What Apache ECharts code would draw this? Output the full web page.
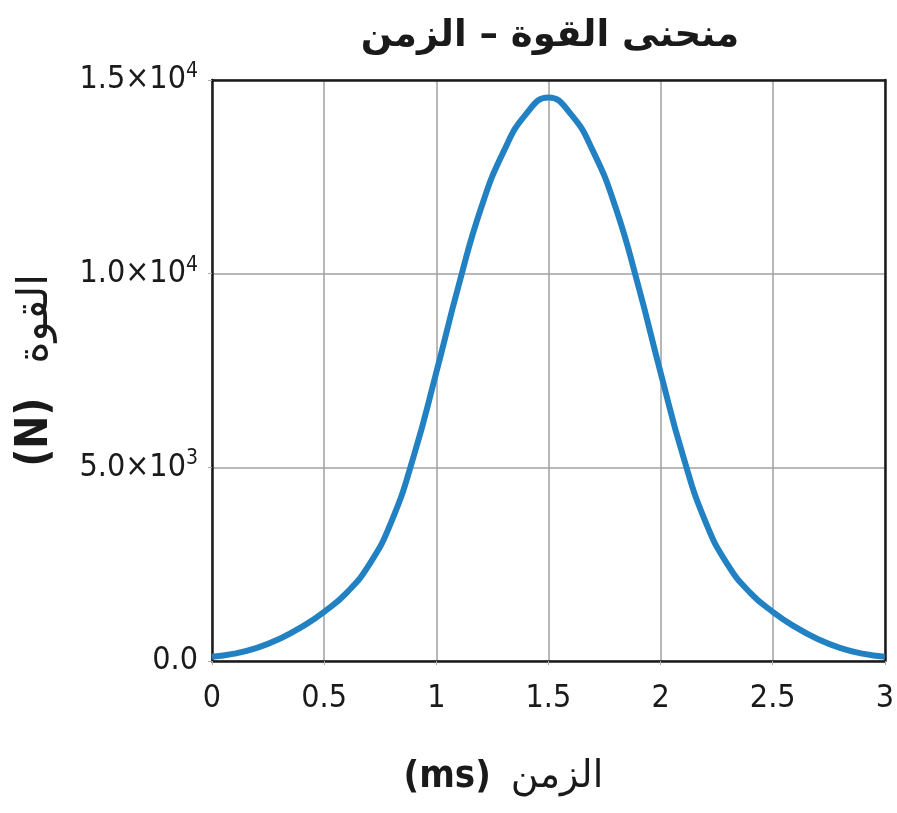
<!DOCTYPE html>
<html>
<head>
<meta charset="utf-8">
<script src="https://cdn.jsdelivr.net/npm/echarts@6/dist/echarts.min.js"></script>
<style>
  html, body { margin: 0; padding: 0; background: #ffffff; }
  #chart { width: 897px; height: 813px; }
</style>
</head>
<body>
<div id="chart"></div>
<script>
// Time samples (ms) and the measured force (N)
const timeMs = [0, 0.1, 0.2, 0.3, 0.4, 0.5, 0.6, 0.7, 0.8, 0.9, 1.0,
                1.1, 1.2, 1.3, 1.4, 1.5, 1.6, 1.7, 1.8, 1.9, 2.0,
                2.1, 2.2, 2.3, 2.4, 2.5, 2.6, 2.7, 2.8, 2.9, 3.0];
const forceN = [110, 190, 340, 570, 880, 1270, 1760, 2480, 3600, 5300, 7450,
                9700, 11700, 13150, 14120, 14550, 14120, 13150, 11700, 9700, 7450,
                5300, 3600, 2480, 1760, 1270, 880, 570, 340, 190, 110];

// Tick labels for the force axis, written as mantissa × 10^exponent
const forceTicks = {
  0: { m: '0.0', e: '' },
  5000: { m: '5.0×10', e: '3' },
  10000: { m: '1.0×10', e: '4' },
  15000: { m: '1.5×10', e: '4' }
};

const titleText = 'منحنى القوة – الزمن';
const xName = '{b|(ms)}{a|الزمن}';
const yName = '{b|(N)}{a|القوة}';

const numFont = "'Liberation Sans Narrow', 'DejaVu Sans Condensed', 'Liberation Sans', sans-serif";
const arFont = "'DejaVu Sans', 'Noto Sans', sans-serif";
const ink = '#1a1a1a';

const chart = echarts.init(document.getElementById('chart'));
chart.setOption({
  animation: false,
  backgroundColor: '#ffffff',
  title: {
    text: titleText,
    left: 545,
    textAlign: 'center',
    top: 13,
    textStyle: { fontFamily: arFont, fontWeight: 'bold', fontSize: 37, color: ink }
  },
  grid: { left: 212, right: 12, top: 80, bottom: 152 },
  xAxis: [{
    type: 'value',
    min: 0, max: 3, interval: 0.5,
    name: xName,
    nameLocation: 'middle',
    nameGap: 97,
    nameTextStyle: {
      padding: [0, 90, 0, 0],
      rich: {
        b: { fontFamily: numFont, fontSize: 38, fontWeight: 'bold', color: ink },
        a: { fontFamily: arFont, fontSize: 38, color: ink, padding: [0, 0, 0, 20] }
      }
    },
    axisLine: { show: true, lineStyle: { color: ink, width: 2.5 } },
    axisTick: { show: true, length: 4, lineStyle: { color: '#aaaaaa' } },
    axisLabel: {
      margin: 22,
      fontFamily: numFont, fontSize: 32, color: ink,
      showMinLabel: true, showMaxLabel: true
    },
    splitLine: { show: true, lineStyle: { color: '#a0a0a0', width: 1.5 } }
  }, {
    // top edge of the frame
    type: 'value', position: 'top', min: 0, max: 3, interval: 0.5,
    axisLine: { show: true, onZero: false, lineStyle: { color: ink, width: 2.5 } },
    axisTick: { show: false }, axisLabel: { show: false }, splitLine: { show: false }
  }],
  yAxis: [{
    type: 'value',
    min: 0, max: 15000, interval: 5000,
    name: yName,
    nameLocation: 'middle',
    nameGap: 154,
    nameTextStyle: {
      rich: {
        b: { fontFamily: numFont, fontSize: 44, fontWeight: 'bold', color: ink },
        a: { fontFamily: arFont, fontSize: 42, color: ink, padding: [0, 0, 0, 34] }
      }
    },
    axisLine: { show: true, lineStyle: { color: ink, width: 2.5 } },
    axisTick: { show: true, length: 4, lineStyle: { color: '#aaaaaa' } },
    axisLabel: {
      margin: 14,
      formatter: function (v) {
        const t = forceTicks[v];
        if (!t) return '';
        return t.e ? '{m|' + t.m + '}{e|' + t.e + '}' : '{m|' + t.m + '}';
      },
      rich: {
        m: { fontFamily: numFont, fontSize: 32, color: ink },
        e: { fontFamily: numFont, fontSize: 21, color: ink, padding: [0, 0, 17, 0] }
      }
    },
    splitLine: { show: true, lineStyle: { color: '#a0a0a0', width: 1.5 } }
  }, {
    // right edge of the frame
    type: 'value', position: 'right', min: 0, max: 15000, interval: 5000,
    axisLine: { show: true, onZero: false, lineStyle: { color: ink, width: 2.5 } },
    axisTick: { show: false }, axisLabel: { show: false }, splitLine: { show: false }
  }],
  series: [{
    type: 'line',
    xAxisIndex: 0,
    yAxisIndex: 0,
    data: timeMs.map((t, i) => [t, forceN[i]]),
    smooth: 0.5,
    showSymbol: false,
    lineStyle: { color: '#2181c2', width: 6 },
    z: 3
  }]
});
</script>
</body>
</html>
